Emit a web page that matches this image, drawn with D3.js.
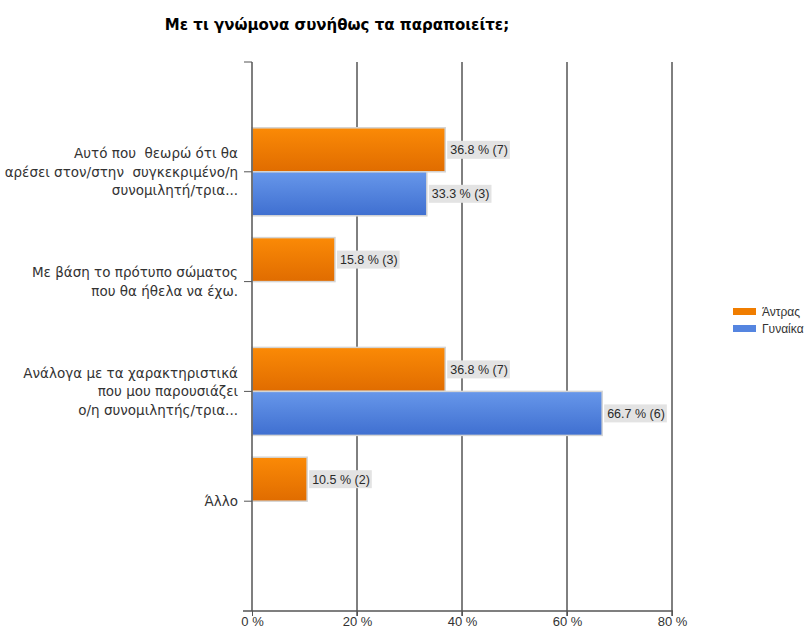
<!DOCTYPE html>
<html>
<head>
<meta charset="utf-8">
<script src="https://cdn.jsdelivr.net/npm/d3@7"></script>
<style>
  html, body { margin: 0; padding: 0; background: #fff; }
  svg { display: block; font-family: "Liberation Sans", Arial, sans-serif; }
</style>
</head>
<body>
<svg id="chart" width="809" height="634"></svg>
<script>
// Survey answers (multi-line category labels)
const categories = [
  ["Αυτό που  θεωρώ ότι θα", "αρέσει στον/στην  συγκεκριμένο/η", "συνομιλητή/τρια..."],
  ["Με βάση το πρότυπο σώματος", "που θα ήθελα να έχω."],
  ["Ανάλογα με τα χαρακτηριστικά", "που μου παρουσιάζει", "ο/η συνομιλητής/τρια..."],
  ["Άλλο"]
];
const seriesNames = ["Άντρας", "Γυναίκα"];
const menPct = [36.8, 15.8, 36.8, 10.5];
const menCount = [7, 3, 7, 2];
const womenPct = [33.3, null, 66.7, null];
const womenCount = [3, null, 6, null];
const xTicks = [0, 20, 40, 60, 80];
const title = "Με τι γνώμονα συνήθως τα παραποιείτε;";

const svg = d3.select("#chart");
const plotLeft = 252, plotRight = 672, plotTop = 62, plotBottom = 611;

const x = d3.scaleLinear().domain([0, 80]).range([plotLeft, plotRight]);
const catKeys = categories.map((c, i) => i);
const y = d3.scalePoint().domain(catKeys).range([plotTop, plotBottom]).padding(1);
const barH = 44;
const series = d3.scaleBand().domain(seriesNames).range([-barH, barH]);

// Gradients for the bars
const defs = svg.append("defs");
const grads = [
  { id: "gOrange", c1: "#fb8a06", c2: "#e06c00" },
  { id: "gBlue", c1: "#6797ea", c2: "#3f6fd0" }
];
grads.forEach(g => {
  const lg = defs.append("linearGradient").attr("id", g.id)
    .attr("x1", 0).attr("y1", 0).attr("x2", 0).attr("y2", 1);
  lg.append("stop").attr("offset", "0%").attr("stop-color", g.c1);
  lg.append("stop").attr("offset", "100%").attr("stop-color", g.c2);
});
const legendColors = ["#f07d00", "#5585e0"];

// Title
svg.append("text")
  .attr("x", 337).attr("y", 30)
  .attr("text-anchor", "middle")
  .attr("font-family", "DejaVu Sans, Verdana, sans-serif")
  .attr("font-weight", "bold")
  .attr("font-size", 15)
  .attr("fill", "#000")
  .text(title);

// Vertical gridlines (extending past the bottom axis as ticks)
svg.append("g").selectAll("line")
  .data(xTicks.slice(1))
  .join("line")
  .attr("x1", d => x(d)).attr("x2", d => x(d))
  .attr("y1", plotTop).attr("y2", plotBottom + 5)
  .attr("stroke", "#000").attr("stroke-width", 1);

// Bottom axis
const xAxis = d3.axisBottom(x).tickValues(xTicks).tickSize(5).tickFormat(d => d + " %");
const gx = svg.append("g").attr("transform", `translate(0,${plotBottom})`).call(xAxis);
gx.select(".domain").remove();
gx.selectAll(".tick line").attr("stroke", "#555");
gx.selectAll(".tick text").attr("font-size", 13).attr("fill", "#333")
  .attr("font-family", "Liberation Sans, Arial, sans-serif").attr("dy", "0.85em").attr("y", 4);
svg.append("line")
  .attr("x1", plotLeft - 9).attr("x2", plotRight + 1)
  .attr("y1", plotBottom).attr("y2", plotBottom)
  .attr("stroke", "#555").attr("stroke-width", 1.5);

// Bars
const rows = catKeys.map(i => [
  { cat: i, s: seriesNames[0], v: menPct[i], n: menCount[i], fill: "url(#gOrange)" },
  { cat: i, s: seriesNames[1], v: womenPct[i], n: womenCount[i], fill: "url(#gBlue)" }
]).flat().filter(d => d.v != null);

const barG = svg.append("g");
barG.selectAll("rect")
  .data(rows)
  .join("rect")
  .attr("x", x(0))
  .attr("y", d => y(d.cat) + series(d.s))
  .attr("width", d => x(d.v) - x(0))
  .attr("height", series.bandwidth())
  .attr("fill", d => d.fill)
  .attr("stroke", "#d4d4d4")
  .attr("stroke-width", 1.5);

// Value labels on gray boxes
const lblG = svg.append("g");
rows.forEach(d => {
  const cy = y(d.cat) + series(d.s) + series.bandwidth() / 2;
  const g = lblG.append("g");
  const t = g.append("text")
    .attr("x", x(d.v) + 5)
    .attr("y", cy)
    .attr("dy", "0.35em")
    .attr("font-size", 12.5)
    .attr("fill", "#2a2a2a")
    .text(`${d.v.toFixed(1)} % (${d.n})`);
  const bb = t.node().getBBox();
  g.insert("rect", "text")
    .attr("x", x(d.v) + 2)
    .attr("y", cy - 9)
    .attr("width", bb.width + 5)
    .attr("height", 18)
    .attr("fill", "#e3e3e3");
});

// Left axis
svg.append("line")
  .attr("x1", plotLeft).attr("x2", plotLeft)
  .attr("y1", plotTop).attr("y2", plotBottom)
  .attr("stroke", "#555").attr("stroke-width", 1.5);
svg.append("line")
  .attr("x1", plotLeft - 8).attr("x2", plotLeft)
  .attr("y1", plotTop).attr("y2", plotTop)
  .attr("stroke", "#555").attr("stroke-width", 1);

const yAxisG = svg.append("g");
catKeys.forEach(i => {
  const cy = y(i);
  yAxisG.append("line")
    .attr("x1", plotLeft - 8).attr("x2", plotLeft)
    .attr("y1", cy).attr("y2", cy)
    .attr("stroke", "#555").attr("stroke-width", 1);
  const lines = categories[i];
  const lh = 18.5;
  const t = yAxisG.append("text")
    .attr("text-anchor", "end")
    .attr("font-family", "DejaVu Sans, Verdana, sans-serif")
    .attr("font-size", 13.5)
    .attr("fill", "#333")
    .style("white-space", "pre");
  lines.forEach((ln, k) => {
    t.append("tspan")
      .attr("x", plotLeft - 14)
      .attr("y", cy + (k - (lines.length - 1) / 2) * lh)
      .attr("dy", "0.35em")
      .text(ln);
  });
});

// Legend
const lg = svg.append("g").attr("transform", "translate(733,308)");
seriesNames.forEach((s, i) => {
  lg.append("rect").attr("x", 0).attr("y", i * 17).attr("width", 23).attr("height", 7)
    .attr("fill", legendColors[i]);
  lg.append("text").attr("x", 29).attr("y", i * 17 + 4).attr("dy", "0.35em")
    .attr("font-size", 12).attr("fill", "#333").text(s);
});
</script>
</body>
</html>
